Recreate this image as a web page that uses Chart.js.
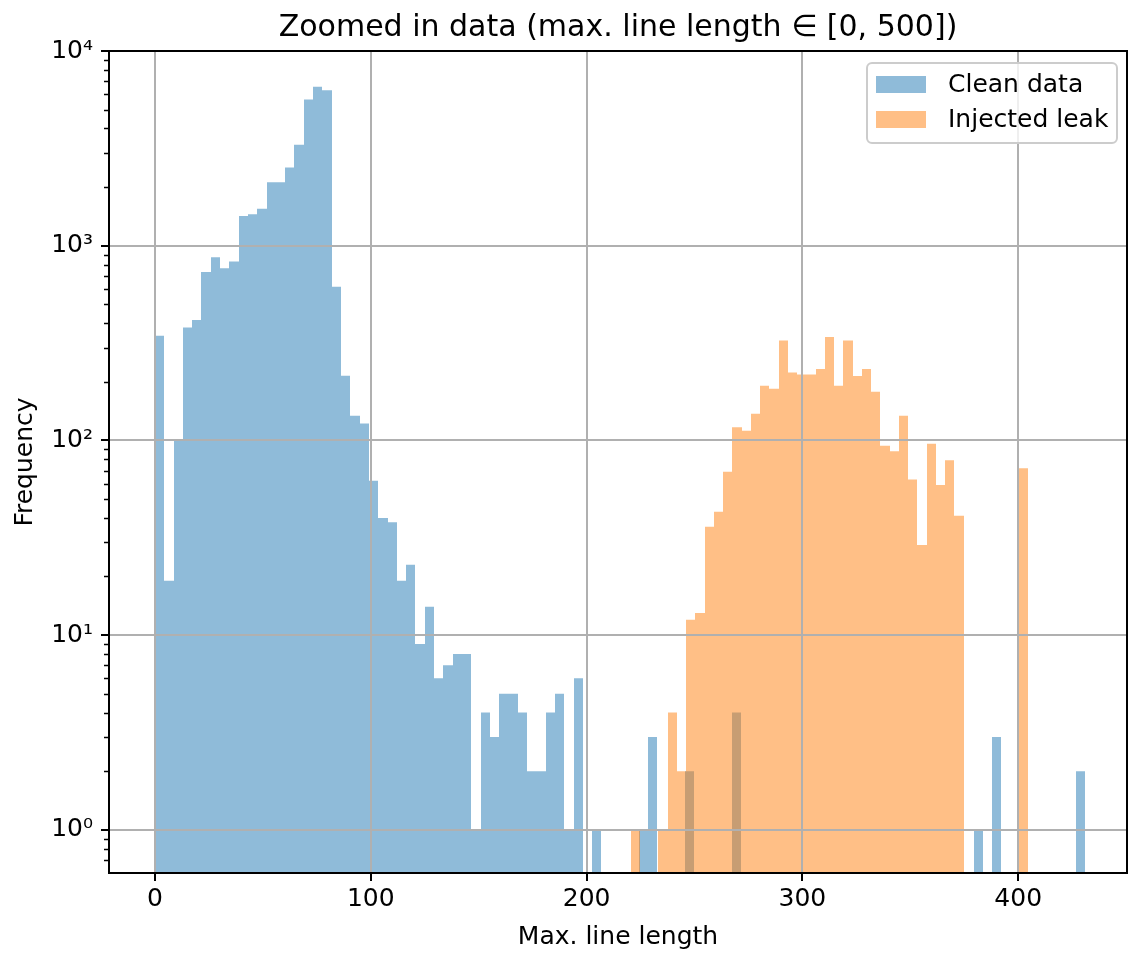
<!DOCTYPE html>
<html>
<head>
<meta charset="utf-8">
<script src="https://cdn.jsdelivr.net/npm/chart.js@4.4.1/dist/chart.umd.min.js"></script>
<style>
  html, body { margin: 0; padding: 0; background: #fff; }
  #wrap { position: relative; width: 1129px; height: 953px; }
  #legend {
    position: absolute; left: 866px; top: 62px; width: 252px; height: 82px;
    box-sizing: border-box; border: 2px solid #cccccc; border-radius: 6px;
    background: rgba(255, 255, 255, 0.8);
    font: 25px "DejaVu Sans", sans-serif; color: #000;
  }
  .patch { position: absolute; left: 8px; width: 50px; height: 17px; }
  .label { position: absolute; left: 80px; line-height: 30px; white-space: nowrap; }
</style>
</head>
<body>
<div id="wrap">
  <canvas id="chart" width="1129" height="953"></canvas>
  <div id="legend">
    <div class="patch" style="top: 12px; background: #8fbbd9;"></div>
    <div class="label" style="top: 5px;">Clean data</div>
    <div class="patch" style="top: 47px; background: #ffbf86;"></div>
    <div class="label" style="top: 40px;">Injected leak</div>
  </div>
</div>
<script>
// histogram bin ranges (100 bins for clean data, 43 bins for the leak)
const cleanRange = [0, 431];
const leakRange = [220.4, 404.7];

const cleanCounts = [
  345, 19, 100, 380, 415, 732, 873, 767, 830, 1420,
  1450, 1550, 2120, 2120, 2520, 3300, 5630, 6560, 6290, 615,
  215, 134, 122, 62, 40, 38, 19, 23, 9, 14,
  6, 7, 8, 8, 1, 4, 3, 5, 5, 4,
  2, 2, 4, 5, 1, 6, 0, 1, 0, 0,
  0, 0, 1, 3, 0, 0, 0, 2, 0, 0,
  0, 0, 4, 0, 0, 0, 0, 0, 0, 0,
  0, 0, 0, 0, 0, 0, 0, 0, 0, 0,
  0, 0, 0, 0, 0, 0, 0, 0, 1, 0,
  3, 0, 0, 0, 0, 0, 0, 0, 0, 2
];

const leakCounts = [
  1, 0, 0, 1, 4, 2, 12, 13, 36, 43,
  69, 117, 112, 137, 191, 184, 326, 223, 218, 218,
  233, 340, 191, 326, 214, 233, 178, 94, 88, 134,
  63, 29, 96, 59, 79, 41, 0, 0, 0, 0,
  0, 0, 72
];

const xTicks = [0, 100, 200, 300, 400];
const yMajorTicks = [1, 10, 100, 1000, 10000];
const yTickLabels = ["10\u2070", "10\u00b9", "10\u00b2", "10\u00b3", "10\u2074"];

function binPoints(counts, range) {
  const w = (range[1] - range[0]) / counts.length;
  return counts.map((c, i) => ({ x: range[0] + (i + 0.5) * w, y: c > 0 ? c : null }));
}

Chart.defaults.font.family = "DejaVu Sans";
Chart.defaults.color = "#000";

// snap bar edges to whole pixels so neighbouring bins don't leave light seams
const snapBars = {
  id: "snapBars",
  afterDatasetsUpdate(chart) {
    chart.getSortedVisibleDatasetMetas().forEach(meta => {
      meta.data.forEach(bar => {
        if (!bar || isNaN(bar.x)) return;
        const l = Math.round(bar.x - bar.width / 2);
        const r = Math.round(bar.x + bar.width / 2);
        bar.x = (l + r) / 2;
        bar.width = r - l;
      });
    });
  }
};

// frame round the plot + short minor ticks on the log axis
const frame = {
  id: "frame",
  afterDraw(chart) {
    const { ctx, chartArea: a, scales: { y } } = chart;
    ctx.save();
    ctx.strokeStyle = "#000";
    ctx.lineWidth = 1.5;
    y.ticks.forEach(t => {
      if (yMajorTicks.includes(t.value)) return;
      const py = Math.round(y.getPixelForValue(t.value)) + 0.5;
      ctx.beginPath();
      ctx.moveTo(a.left - 5, py);
      ctx.lineTo(a.left, py);
      ctx.stroke();
    });
    ctx.lineWidth = 2;
    ctx.strokeRect(a.left, a.top, a.right - a.left, a.bottom - a.top);
    ctx.restore();
  }
};

const xMin = -21.3, xMax = 450.4;

new Chart(document.getElementById("chart"), {
  type: "bar",
  data: {
    datasets: [
      {
        label: "Injected leak",
        data: binPoints(leakCounts, leakRange),
        backgroundColor: "rgba(255, 127, 14, 0.5)",
        xAxisID: "x2",
        order: 0
      },
      {
        label: "Clean data",
        data: binPoints(cleanCounts, cleanRange),
        backgroundColor: "rgba(31, 119, 180, 0.5)",
        xAxisID: "x",
        order: 1
      }
    ]
  },
  options: {
    responsive: false,
    animation: false,
    datasets: {
      bar: { barPercentage: 1, categoryPercentage: 1, grouped: false, borderWidth: 0, inflateAmount: 0 }
    },
    layout: { padding: { left: 0, right: 2, top: 0, bottom: 0 } },
    plugins: {
      legend: { display: false },
      tooltip: { enabled: false },
      title: {
        display: true,
        fullSize: false,
        text: "Zoomed in data (max. line length \u2208 [0, 500])",
        font: { size: 30, weight: "normal" },
        color: "#000",
        padding: { top: 10, bottom: 5 }
      }
    },
    scales: {
      x: {
        type: "linear",
        min: xMin,
        max: xMax,
        offset: false,
        afterBuildTicks: s => { s.ticks = xTicks.map(v => ({ value: v })); },
        afterFit: s => { s.height = 80; },
        ticks: { font: { size: 25 }, padding: 3, maxRotation: 0, autoSkip: false },
        grid: { offset: false, color: "#b0b0b0", lineWidth: 2, tickLength: 8, tickColor: "#000", tickWidth: 2, z: 1 },
        border: { display: false },
        title: { display: true, text: "Max. line length", font: { size: 25 }, padding: { top: 0, bottom: 1 } }
      },
      x2: {
        type: "linear",
        min: xMin,
        max: xMax,
        offset: false,
        display: false
      },
      y: {
        type: "logarithmic",
        min: 0.637,
        max: 10000,
        afterBuildTicks: s => {
          const vals = [0.7, 0.8, 0.9];
          for (let e = 0; e < 4; e++) {
            for (let m = 1; m <= 9; m++) vals.push(m * Math.pow(10, e));
          }
          vals.push(10000);
          s.ticks = vals.map(v => ({ value: v, major: yMajorTicks.includes(v) }));
        },
        afterFit: s => { s.width = 109; },
        ticks: {
          font: { size: 25 },
          padding: 8,
          autoSkip: false,
          callback: v => {
            const i = yMajorTicks.indexOf(v);
            return i >= 0 ? yTickLabels[i] : "";
          }
        },
        grid: {
          color: c => (c.tick && yMajorTicks.includes(c.tick.value) ? "#b0b0b0" : "rgba(0,0,0,0)"),
          tickColor: c => (c.tick && yMajorTicks.includes(c.tick.value) ? "#000" : "rgba(0,0,0,0)"),
          lineWidth: 2,
          tickWidth: 2,
          tickLength: 8,
          z: 1
        },
        border: { display: false },
        title: { display: true, text: "Frequency", font: { size: 25 }, padding: { top: 10, bottom: 0 } }
      }
    }
  },
  plugins: [snapBars, frame]
});
</script>
</body>
</html>
